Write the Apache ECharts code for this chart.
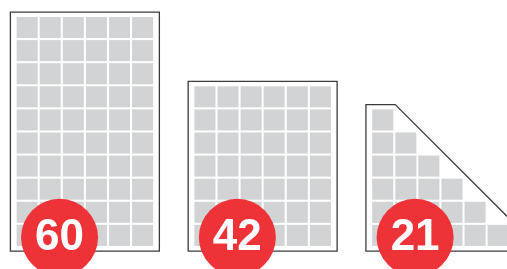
<!DOCTYPE html>
<html>
<head>
<meta charset="utf-8">
<script src="https://cdn.jsdelivr.net/npm/echarts@6/dist/echarts.min.js"></script>
<style>
  html, body { margin: 0; padding: 0; background: #fff; }
  #chart { width: 507px; height: 269px; }
</style>
</head>
<body>
<div id="chart"></div>
<script>
// 数据
var shapeKinds = ['rect', 'rect', 'triangle'];
var totals = [60, 42, 21];
var colCounts = [6, 6, 6];
var rowCounts = [10, 7, 6];

// 版式 (单位 = 一个格子的间距)
var CELL = 21 / 23;          // 格子边长
var GROUP_FIRST = 0.72;      // 第一组格子左边
var GROUP_STEP = 7.7;        // 组间距
var PAD_X = 0.27, PAD_TOP = 0.21, PAD_BOTTOM = 0.23;
var BADGE_DX = 1.86, BADGE_Y = 0.37;

function groupLeft(g) {
	return GROUP_FIRST + g * GROUP_STEP;
}

// 每个格子 [x, y]，三角形每往上一行少一个
var cellData = [];
for (var g = 0; g < totals.length; g++) {
	for (var r = 0; r < rowCounts[g]; r++) {
		var n = shapeKinds[g] === 'triangle' ? colCounts[g] - r : colCounts[g];
		for (var c = 0; c < n; c++) {
			cellData.push([groupLeft(g) + c, r]);
		}
	}
}
var frameData = totals.map(function(t, g) { return [g]; });
var badgeData = totals.map(function(t, g) { return [groupLeft(g) + BADGE_DX, BADGE_Y, t]; });

var myChart = echarts.init(document.getElementById('chart'));
var option = {
	animation: false,
	grid: { left: 0, right: 0, top: 0, bottom: 0 },
	xAxis: { type: 'value', min: 0, max: 21.96, show: false },
	yAxis: { type: 'value', min: -1, max: 10.65, show: false },
	series: [{
		type: 'custom',
		data: frameData,
		z: 1,
		renderItem: function(params, api) {
			var g = api.value(0);
			var left = groupLeft(g) - PAD_X;
			var right = groupLeft(g) + colCounts[g] - (1 - CELL) + PAD_X;
			var top = rowCounts[g] - (1 - CELL) + PAD_TOP;
			var bottom = -PAD_BOTTOM;
			var pts;
			if (shapeKinds[g] === 'triangle') {
				var cx = groupLeft(g) + 1;
				pts = [[left, bottom], [left, top], [cx, top], [cx + (top - bottom), bottom]];
			} else {
				pts = [[left, bottom], [left, top], [right, top], [right, bottom]];
			}
			return {
				type: 'polygon',
				shape: { points: pts.map(function(p) { return api.coord(p); }) },
				style: { fill: null, stroke: '#3b3b3b', lineWidth: 1.3 }
			};
		}
	}, {
		type: 'custom',
		data: cellData,
		z: 2,
		renderItem: function(params, api) {
			var p = api.coord([api.value(0), api.value(1) + CELL]);
			var s = api.size([CELL, CELL]);
			return {
				type: 'rect',
				shape: { x: p[0], y: p[1], width: s[0], height: s[1] },
				style: { fill: '#d1d3d4' }
			};
		}
	}, {
		type: 'scatter',
		data: badgeData,
		z: 3,
		symbol: 'circle',
		symbolSize: 77,
		itemStyle: { color: '#ee3338', opacity: 1 },
		label: {
			show: true,
			position: 'inside',
			formatter: function(p) { return p.value[2]; },
			color: '#fff',
			fontFamily: 'Liberation Sans',
			fontWeight: 'bold',
			fontSize: 44
		}
	}]
};
myChart.setOption(option);
</script>
</body>
</html>
